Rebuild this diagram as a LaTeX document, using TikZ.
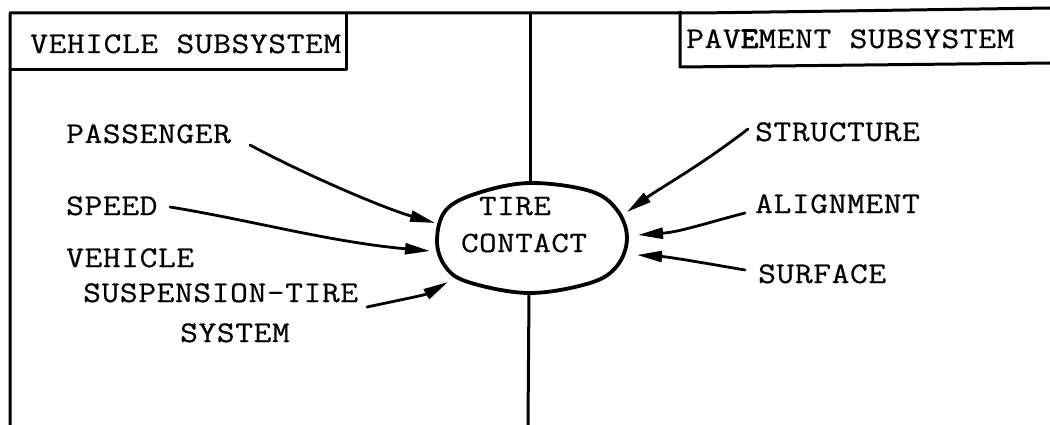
\documentclass[tikz,border=0pt]{standalone}
\usepackage{fontspec}
\newfontfamily\typewriter{Latin Modern Mono}[FakeStretch=1.15, LetterSpace=2, FakeBold=0.6]
\newfontfamily\typewriterheavy{Latin Modern Mono}[FakeStretch=1.15, LetterSpace=2, FakeBold=3]
\usetikzlibrary{arrows.meta}
\begin{document}
\begin{tikzpicture}[x=1pt,y=-1pt,
  frame/.style={line width=3pt, line cap=round, line join=round},
  caption/.style={font=\typewriter\fontsize{30}{30}\selectfont, inner sep=0pt, anchor=base west},
  blobtext/.style={font=\typewriter\fontsize{29.5}{29.5}\selectfont, inner sep=0pt, anchor=base},
  feed/.style={line width=2.8pt, line cap=round, -{Triangle[length=25pt,width=11pt]}},
  blob/.style={line width=3.8pt, line join=round},
]
\useasboundingbox (0,0) rectangle (1050,425);

% outer frame and the two subsystem title boxes
\draw[frame] (10,425) -- (10,13) -- (700,13) -- (1050,8);
\draw[frame] (346,13) -- (346,70) -- (10,70);
\draw[frame] (680,12) -- (680,67) -- (1050,63);

% titles
\node[caption] (veh) at (30,53) {VEHICLE SUBSYSTEM};
\node[caption] (pav) at (686,48) {PAV{\typewriterheavy E}MENT SUBSYSTEM};

% the tire contact region
\coordinate (tctop) at (530,183);
\coordinate (tcbot) at (529,293);
\draw[blob] plot[smooth cycle, tension=0.6] coordinates {
  (530,183) (590,191) (617,210) (627,238) (617,266) (590,283)
  (529,293) (468,282) (445,266) (437,240) (446,210) (478,193)};
\node[blobtext] (tire) at (515,215) {TIRE};
\node[blobtext] (contact) at (524,252) {CONTACT};

% divider between the two subsystems
\draw[frame] (530,13) -- (tctop);
\draw[frame] (tcbot) -- (528,425);

% vehicle-side factors
\node[caption] (pass) at (66,143) {PASSENGER};
\node[caption] (speed) at (66,215) {SPEED};
\node[caption] (vsys1) at (66,267) {VEHICLE};
\node[caption] (vsys2) at (83,302) {SUSPENSION-TIRE};
\node[caption] (vsys3) at (180,342) {SYSTEM};

% pavement-side factors
\node[caption] (struct) at (755,141) {STRUCTURE};
\node[caption] (align) at (755,213) {ALIGNMENT};
\node[caption] (surf) at (758,283) {SURFACE};

% arrow heads on the contact outline
\coordinate (inpass) at (435,223);
\coordinate (inspeed) at (430,251);
\coordinate (invsys) at (448,282);
\coordinate (instruct) at (627,212);
\coordinate (inalign) at (638,235);
\coordinate (insurf) at (637,255);

\draw[feed] (250,145) .. controls (300,172) and (380,207) .. (inpass);
\draw[feed] (170,207) .. controls (250,220) and (330,242) .. (inspeed);
\draw[feed] (367,307) .. controls (400,300) and (425,295) .. (invsys);
\draw[feed] (748,129) .. controls (700,166) and (660,188) .. (instruct);
\draw[feed] (745,213) .. controls (710,222) and (680,232) .. (inalign);
\draw[feed] (745,270) .. controls (710,264) and (670,257) .. (insurf);
\end{tikzpicture}
\end{document}
